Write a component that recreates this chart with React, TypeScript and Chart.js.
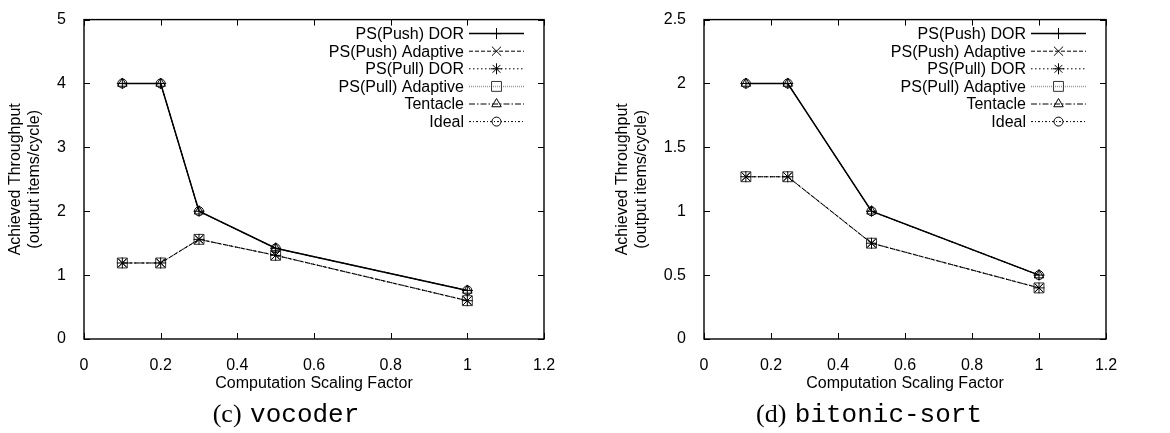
import React, { useEffect, useRef } from 'react';
import { Chart, registerables } from 'chart.js';
Chart.register(...registerables);

Chart.defaults.font.family = '"Liberation Sans", Arial, sans-serif';
Chart.defaults.font.size = 16;
Chart.defaults.color = '#000';

// ---- data ----
const seriesLabels = ['PS(Push) DOR', 'PS(Push) Adaptive', 'PS(Pull) DOR', 'PS(Pull) Adaptive', 'Tentacle', 'Ideal'];

const vocoderX = [0.1, 0.2, 0.3, 0.5, 1.0];
const vocoderPushDOR = [4, 4, 2, 1.42, 0.76];
const vocoderPushAdaptive = [1.19, 1.19, 1.56, 1.31, 0.6];
const vocoderPullDOR = [1.19, 1.19, 1.56, 1.31, 0.6];
const vocoderPullAdaptive = [1.19, 1.19, 1.56, 1.31, 0.6];
const vocoderTentacle = [4, 4, 2, 1.42, 0.76];
const vocoderIdeal = [4, 4, 2, 1.42, 0.76];

const bitonicX = [0.125, 0.25, 0.5, 1.0];
const bitonicPushDOR = [2, 2, 1, 0.5];
const bitonicPushAdaptive = [1.27, 1.27, 0.75, 0.4];
const bitonicPullDOR = [1.27, 1.27, 0.75, 0.4];
const bitonicPullAdaptive = [1.27, 1.27, 0.75, 0.4];
const bitonicTentacle = [2, 2, 1, 0.5];
const bitonicIdeal = [2, 2, 1, 0.5];

const xTickStep = 0.2;
const xMax = 1.2;
const vocoderYMax = 5;
const vocoderYStep = 1;
const bitonicYMax = 2.5;
const bitonicYStep = 0.5;

// ---- styles ----
const seriesStyles = [
  { color: '#000', pointColor: '#000', dash: [], width: 1.5, pointStyle: 'cross', radius: 5.5 },
  { color: '#000', pointColor: '#000', dash: [4, 2], width: 1, pointStyle: 'crossRot', radius: 6.5 },
  { color: '#000', pointColor: '#000', dash: [1.5, 2.5], width: 1, pointStyle: 'star', radius: 5.5 },
  { color: '#999', pointColor: '#333', dash: [1, 1], width: 1.5, pointStyle: 'rect', radius: 7 },
  { color: '#000', pointColor: '#000', dash: [6, 2, 1.5, 2], width: 1, pointStyle: 'triangle', radius: 5.5 },
  { color: '#000', pointColor: '#000', dash: [2, 2, 1, 2], width: 1, pointStyle: 'circle', radius: 4.5 },
];

function drawMarker(ctx: CanvasRenderingContext2D, style: string, x: number, y: number, r: number) {
  ctx.beginPath();
  if (style === 'cross') {
    ctx.moveTo(x - r, y); ctx.lineTo(x + r, y);
    ctx.moveTo(x, y - r); ctx.lineTo(x, y + r);
  } else if (style === 'crossRot') {
    const s = r * Math.SQRT1_2;
    ctx.moveTo(x - s, y - s); ctx.lineTo(x + s, y + s);
    ctx.moveTo(x - s, y + s); ctx.lineTo(x + s, y - s);
  } else if (style === 'star') {
    const s = r * Math.SQRT1_2;
    ctx.moveTo(x - r, y); ctx.lineTo(x + r, y);
    ctx.moveTo(x, y - r); ctx.lineTo(x, y + r);
    ctx.moveTo(x - s, y - s); ctx.lineTo(x + s, y + s);
    ctx.moveTo(x - s, y + s); ctx.lineTo(x + s, y - s);
  } else if (style === 'rect') {
    const s = r * Math.SQRT1_2;
    ctx.rect(x - s, y - s, 2 * s, 2 * s);
  } else if (style === 'triangle') {
    ctx.moveTo(x, y - r);
    ctx.lineTo(x + r * 0.866, y + r * 0.5);
    ctx.lineTo(x - r * 0.866, y + r * 0.5);
    ctx.closePath();
  } else if (style === 'circle') {
    ctx.arc(x, y, r, 0, Math.PI * 2);
  }
  ctx.stroke();
}

const framePlugin = {
  id: 'gnuframe',
  afterDraw(chart: any) {
    const ctx: CanvasRenderingContext2D = chart.ctx;
    const { left, right, top, bottom } = chart.chartArea;
    const opts = chart.options.plugins.gnuframe || {};
    ctx.save();
    ctx.strokeStyle = '#000';
    ctx.lineWidth = 1.4;
    ctx.setLineDash([]);
    ctx.strokeRect(left, top, right - left, bottom - top);
    const tl = 6;
    ctx.lineWidth = 1;
    const xs = chart.scales.x;
    xs.ticks.forEach((t: any) => {
      const px = Math.round(xs.getPixelForValue(t.value)) + 0.5;
      ctx.beginPath();
      ctx.moveTo(px, bottom); ctx.lineTo(px, bottom - tl);
      ctx.moveTo(px, top); ctx.lineTo(px, top + tl);
      ctx.stroke();
    });
    const ys = chart.scales.y;
    ys.ticks.forEach((t: any) => {
      const py = Math.round(ys.getPixelForValue(t.value)) + 0.5;
      ctx.beginPath();
      ctx.moveTo(left, py); ctx.lineTo(left + tl, py);
      ctx.moveTo(right, py); ctx.lineTo(right - tl, py);
      ctx.stroke();
    });

    // legend
    ctx.font = '16px "Liberation Sans", Arial, sans-serif';
    ctx.textAlign = 'right';
    ctx.textBaseline = 'middle';
    ctx.fillStyle = '#000';
    chart.data.datasets.forEach((ds: any, i: number) => {
      const st = seriesStyles[i];
      const y = top + 14 + i * 17.6;
      ctx.fillText(ds.label, right - 80, y + 1);
      ctx.strokeStyle = st.color;
      ctx.lineWidth = st.width;
      ctx.setLineDash(st.dash);
      ctx.beginPath();
      ctx.moveTo(right - 75, y); ctx.lineTo(right - 20, y);
      ctx.stroke();
      ctx.setLineDash([]);
      ctx.lineWidth = 1;
      ctx.strokeStyle = st.pointColor;
      drawMarker(ctx, st.pointStyle, right - 47.5, y, st.radius);
    });

    // caption
    if (opts.captionPrefix) {
      const serif = '26px "Liberation Serif", "Times New Roman", serif';
      const mono = '26px "Liberation Mono", "Courier New", monospace';
      ctx.textAlign = 'left';
      ctx.textBaseline = 'alphabetic';
      ctx.font = serif;
      const w1 = ctx.measureText(opts.captionPrefix).width;
      ctx.font = mono;
      const w2 = ctx.measureText(opts.captionName).width;
      const x0 = opts.captionCenter - (w1 + w2) / 2;
      ctx.font = serif;
      ctx.fillText(opts.captionPrefix, x0, 422);
      ctx.font = mono;
      ctx.fillText(opts.captionName, x0 + w1 + 2, 422);
    }
    ctx.restore();
  },
};

const fmt = (v: any) => String(Math.round(Number(v) * 1000) / 1000);

interface PanelProps {
  xs: number[];
  series: number[][];
  yMax: number;
  yStep: number;
  yAxisWidth: number;
  yTitlePad: number;
  padRight: number;
  captionPrefix: string;
  captionName: string;
  captionCenter: number;
}

function Panel(p: PanelProps) {
  const ref = useRef<HTMLCanvasElement>(null);
  useEffect(() => {
    if (!ref.current) return;
    const datasets = p.series.map((vals, i) => {
      const st = seriesStyles[i];
      return {
        label: seriesLabels[i],
        data: vals.map((v, j) => ({ x: p.xs[j], y: v })),
        borderColor: st.color,
        borderWidth: st.width,
        borderDash: st.dash,
        pointStyle: st.pointStyle,
        pointRadius: st.radius,
        pointBorderColor: st.pointColor,
        pointBorderWidth: 1,
        pointBackgroundColor: 'rgba(0,0,0,0)',
        fill: false,
        tension: 0,
      };
    });
    const chart = new Chart(ref.current, {
      type: 'line',
      data: { datasets },
      plugins: [framePlugin],
      options: {
        responsive: false,
        animation: false,
        layout: { padding: { left: 0, right: p.padRight, top: 10, bottom: 0 } },
        plugins: {
          legend: { display: false },
          tooltip: { enabled: false },
          gnuframe: {
            captionPrefix: p.captionPrefix,
            captionName: p.captionName,
            captionCenter: p.captionCenter,
          },
        } as any,
        scales: {
          x: {
            type: 'linear',
            min: 0,
            max: xMax,
            grid: { display: false },
            border: { display: false },
            ticks: { stepSize: xTickStep, padding: 9, maxRotation: 0, callback: fmt },
            title: {
              display: true,
              text: 'Computation Scaling Factor',
              padding: { top: 0, bottom: 40 },
              font: { size: 16 },
            },
            afterFit: (s: any) => { s.height = 94; },
          },
          y: {
            type: 'linear',
            min: 0,
            max: p.yMax,
            grid: { display: false },
            border: { display: false },
            ticks: { stepSize: p.yStep, padding: 10, callback: fmt },
            title: {
              display: true,
              text: ['Achieved Throughput', '(output items/cycle)'],
              padding: { top: p.yTitlePad, bottom: 0 },
              font: { size: 16, lineHeight: 1.2 },
            },
            afterFit: (s: any) => { s.width = p.yAxisWidth; },
          },
        },
      } as any,
    });
    return () => chart.destroy();
  }, []);
  return <canvas ref={ref} width={585} height={433} style={{ display: 'block', width: 585, height: 433 }} />;
}

export default function App() {
  return (
    <div style={{ position: 'absolute', left: 0, top: 0, width: 1170, height: 433, display: 'flex', background: '#fff' }}>
      <Panel
        xs={vocoderX}
        series={[vocoderPushDOR, vocoderPushAdaptive, vocoderPullDOR, vocoderPullAdaptive, vocoderTentacle, vocoderIdeal]}
        yMax={vocoderYMax}
        yStep={vocoderYStep}
        yAxisWidth={84}
        yTitlePad={6}
        padRight={41}
        captionPrefix="(c) "
        captionName="vocoder"
        captionCenter={285}
      />
      <Panel
        xs={bitonicX}
        series={[bitonicPushDOR, bitonicPushAdaptive, bitonicPullDOR, bitonicPullAdaptive, bitonicTentacle, bitonicIdeal]}
        yMax={bitonicYMax}
        yStep={bitonicYStep}
        yAxisWidth={119}
        yTitlePad={28}
        padRight={64}
        captionPrefix="(d) "
        captionName="bitonic-sort"
        captionCenter={283}
      />
    </div>
  );
}
